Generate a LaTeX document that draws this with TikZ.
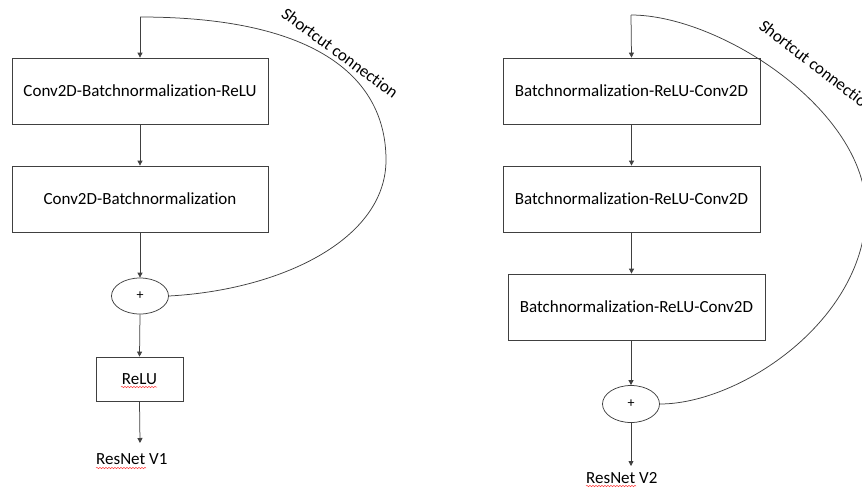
\documentclass[tikz,border=0pt]{standalone}
\usepackage{fontspec}
\setmainfont[Ligatures=NoCommon]{Carlito}
\usetikzlibrary{arrows.meta,shapes.geometric,decorations.pathmorphing}
\begin{document}
\begin{tikzpicture}[x=1pt,y=-1pt,
  line/.style={draw=black!75,line width=0.75pt},
  arr/.style={line,-{Triangle[width=5pt,length=5pt]}},
  blk/.style={line,rectangle,inner sep=0pt,minimum width=256pt,minimum height=66pt,font=\fontsize{17}{20}\selectfont},
  sumnode/.style={line,ellipse,inner sep=0pt,minimum width=57pt,minimum height=36pt,font=\fontsize{14}{16}\selectfont},
  lbl/.style={inner sep=0pt,font=\fontsize{17}{20}\selectfont},
  squig/.style={draw=red!75,line width=0.5pt,decorate,decoration={snake,amplitude=0.7pt,segment length=3pt}}]
\useasboundingbox (0,0) rectangle (862,488);
\clip (0,0) rectangle (862,488);
% ---------- ResNet V1 ----------
\coordinate (tl) at (140,17);
\node[blk] (b1) at (140,91) {Conv2D-Batchnormalization-ReLU};
\node[blk] (b2) at (140,199) {Conv2D-Batchnormalization};
\node[sumnode] (e1) at (140,296) {+};
\node[blk,minimum width=87pt,minimum height=44pt] (r1) at (139.5,379) {ReLU};
\coordinate (o1) at (140,443);
\node[lbl,anchor=west] (t1) at (96,459) {ResNet V1};
\draw[arr] (tl) -- (b1.north);
\draw[arr] (b1.south) -- (b2.north);
\draw[arr] (b2.south) -- (e1.north);
\draw[arr] (e1.south) -- (r1.north);
\draw[arr] (r1.south) -- (o1);
\draw[line] (tl) .. controls (320,17) and (386,80) .. (386,160)
  .. controls (386,240) and (280,290) .. (e1.east);
\node[lbl,rotate=-36.5] (s1) at (340,53) {Shortcut connection};
\draw[squig] (121,387) -- (157,387);
\draw[squig] (96,468) -- (146,468);
% ---------- ResNet V2 ----------
\coordinate (tr) at (631,15);
\node[blk,minimum width=257pt] (c1) at (631.5,91) {Batchnormalization-ReLU-Conv2D};
\node[blk,minimum width=257pt] (c2) at (631.5,199) {Batchnormalization-ReLU-Conv2D};
\node[blk,minimum width=257pt] (c3) at (636.5,307) {Batchnormalization-ReLU-Conv2D};
\node[sumnode,minimum height=37pt] (e2) at (631,404) {+};
\coordinate (o2) at (631,466);
\node[lbl,anchor=west] (t2) at (586,478) {ResNet V2};
\draw[arr] (tr) -- (c1.north);
\draw[arr] (c1.south) -- (c2.north);
\draw[arr] (c2.south) -- (c2.south |- c3.north);
\draw[arr] (c3.south -| e2.north) -- (e2.north);
\draw[arr] (e2.south) -- (o2);
\draw[line] (tr) .. controls (720,15) and (866,110) .. (866,210)
  .. controls (866,320) and (740,404) .. (e2.east);
\node[lbl,rotate=-37.5] (s2) at (817,66) {Shortcut connection};
\draw[squig] (586,486) -- (636,486);
\end{tikzpicture}
\end{document}
